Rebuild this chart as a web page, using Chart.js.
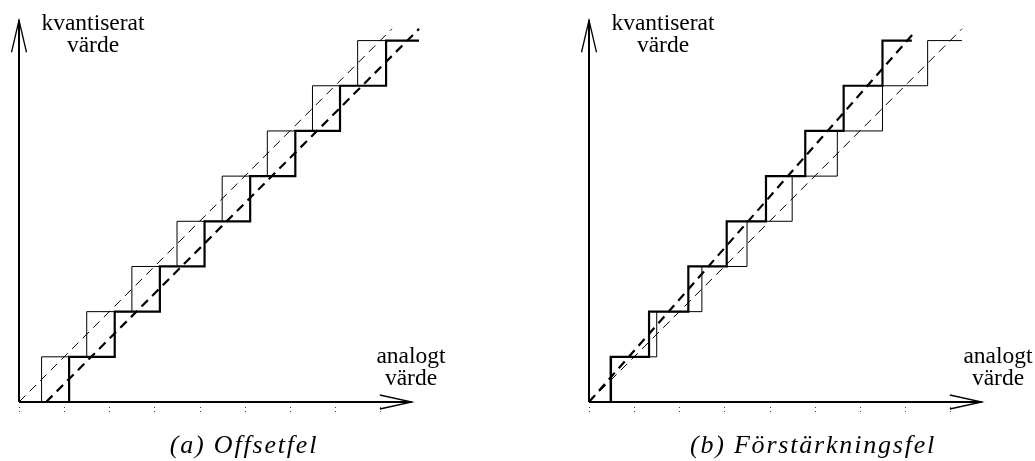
<!DOCTYPE html>
<html>
<head>
<meta charset="utf-8">
<script src="https://cdn.jsdelivr.net/npm/chart.js@4/dist/chart.umd.min.js"></script>
<style>
    body { margin: 0; background: #fff; width: 1035px; height: 461px; overflow: hidden; position: relative; font-family: "Liberation Serif", "DejaVu Serif", serif; }
    canvas { position: absolute; top: 0; }
    .lbl { position: absolute; font-size: 23.5px; line-height: 22px; text-align: center; color: #000; white-space: nowrap; width: 140px; }
    .cap { position: absolute; font-style: italic; font-size: 26px; line-height: 30px; letter-spacing: 1.8px; text-align: center; width: 320px; white-space: nowrap; color: #000; }
</style>
</head>
<body>
<canvas id="offsetChart" width="460" height="461" style="left:0"></canvas>
<canvas id="gainChart" width="475" height="461" style="left:560px"></canvas>

<div class="lbl" style="left:23px; top:11px">kvantiserat<br>värde</div>
<div class="lbl" style="left:593px; top:11px">kvantiserat<br>värde</div>
<div class="lbl" style="left:341px; top:344px">analogt<br>värde</div>
<div class="lbl" style="left:928px; top:344px">analogt<br>värde</div>

<div class="cap" style="left:84px; top:430px">(a) Offsetfel</div>
<div class="cap" style="left:653px; top:430px">(b) Förstärkningsfel</div>

<script>
// quantization levels and x-axis tick positions (in LSB units)
const levels = [1, 2, 3, 4, 5, 6, 7, 8];
const xTicks = [0, 1, 2, 3, 4, 5, 6, 7, 8];
const xAxisEnd = 8.7;
const yAxisEnd = 8.45;

// ideal converter: transitions at half steps
const idealRisers = [0.5, 1.5, 2.5, 3.5, 4.5, 5.5, 6.5, 7.5];
// (a) offset error
const offsetRisers = [1.11, 2.12, 3.12, 4.11, 5.12, 6.12, 7.11, 8.13];
const offsetStairEnd = 8.86;
const idealLineA = [0, 8.26];          // x range of y = x
const offsetLineX = [0.6, 8.86];
const offsetLineY = [0, 8.26];
// (b) gain error
const gainRisers = [0.48, 1.33, 2.2, 3.05, 3.92, 4.79, 5.64, 6.5];
const gainStairEnd = 7.15;
const idealStairEndB = 8.26;
const idealLineB = [0, 8.26];
const gainLineX = [0, 7.18];
const gainLineY = [0, 8.15];

const stairs = (risers, end) => {
    const pts = [{ x: 0, y: 0 }];
    risers.forEach((r, i) => pts.push({ x: r, y: levels[i] }));
    pts.push({ x: end, y: levels[levels.length - 1] });
    return pts;
};
const segment = (xs, ys) => [{ x: xs[0], y: ys[0] }, { x: xs[1], y: ys[1] }];

// axes with open arrow heads and dotted ticks
const axesPlugin = {
    id: 'axes',
    afterDatasetsDraw(chart) {
        const { ctx, scales: { x, y } } = chart;
        const x0 = x.getPixelForValue(0), y0 = y.getPixelForValue(0);
        const xe = x.getPixelForValue(xAxisEnd), ye = y.getPixelForValue(yAxisEnd);
        ctx.save();
        ctx.strokeStyle = '#000';
        ctx.lineWidth = 2;
        ctx.beginPath();
        ctx.moveTo(x0, y0); ctx.lineTo(xe, y0);
        ctx.moveTo(x0, y0); ctx.lineTo(x0, ye);
        ctx.stroke();
        ctx.lineWidth = 1.3;
        ctx.beginPath();
        ctx.moveTo(xe - 32, y0 - 7); ctx.lineTo(xe, y0); ctx.lineTo(xe - 32, y0 + 7);
        ctx.moveTo(x0 - 7.5, ye + 32); ctx.lineTo(x0, ye); ctx.lineTo(x0 + 7.5, ye + 32);
        ctx.stroke();
        ctx.lineWidth = 1;
        ctx.strokeStyle = '#444';
        ctx.setLineDash([1, 3]);
        xTicks.forEach(v => {
            const px = Math.round(x.getPixelForValue(v)) + 0.5;
            ctx.beginPath();
            ctx.moveTo(px, y0 + 5); ctx.lineTo(px, y0 + 13);
            ctx.stroke();
        });
        ctx.restore();
    }
};

const stairStyle = (w) => ({ borderColor: '#000', borderWidth: w, stepped: true, pointRadius: 0, fill: false, clip: 6 });
const dashStyle = (w, dash) => ({ borderColor: '#000', borderWidth: w, borderDash: dash, pointRadius: 0, fill: false, clip: 6 });

const makeOptions = (padRight) => ({
    responsive: false,
    animation: false,
    layout: { padding: { left: 0, right: padRight, top: 18, bottom: 59 } },
    plugins: { legend: { display: false }, tooltip: { enabled: false } },
    scales: {
        x: { type: 'linear', min: 0, max: 9, display: false },
        y: { type: 'linear', min: 0, max: 8.5, display: false }
    }
});

const optsA = makeOptions(460 - 19 - 406.35);
optsA.layout.padding.left = 19;
new Chart(document.getElementById('offsetChart').getContext('2d'), {
    type: 'line',
    data: {
        datasets: [
            { data: stairs(offsetRisers, offsetStairEnd), ...stairStyle(2.2), order: 1 },
            { data: segment(offsetLineX, offsetLineY), ...dashStyle(2.2, [9, 6]), order: 2 },
            { data: stairs(idealRisers, offsetStairEnd), ...stairStyle(1), order: 3 },
            { data: segment(idealLineA, idealLineA), ...dashStyle(1, [9, 6]), order: 4 }
        ]
    },
    options: optsA,
    plugins: [axesPlugin]
});

const optsB = makeOptions(475 - 29 - 406.35);
optsB.layout.padding.left = 29;
new Chart(document.getElementById('gainChart').getContext('2d'), {
    type: 'line',
    data: {
        datasets: [
            { data: stairs(gainRisers, gainStairEnd), ...stairStyle(2.2), order: 1 },
            { data: segment(gainLineX, gainLineY), ...dashStyle(2.2, [9, 6]), order: 2 },
            { data: stairs(idealRisers, idealStairEndB), ...stairStyle(1), order: 3 },
            { data: segment(idealLineB, idealLineB), ...dashStyle(1, [9, 6]), order: 4 }
        ]
    },
    options: optsB,
    plugins: [axesPlugin]
});
</script>
</body>
</html>
